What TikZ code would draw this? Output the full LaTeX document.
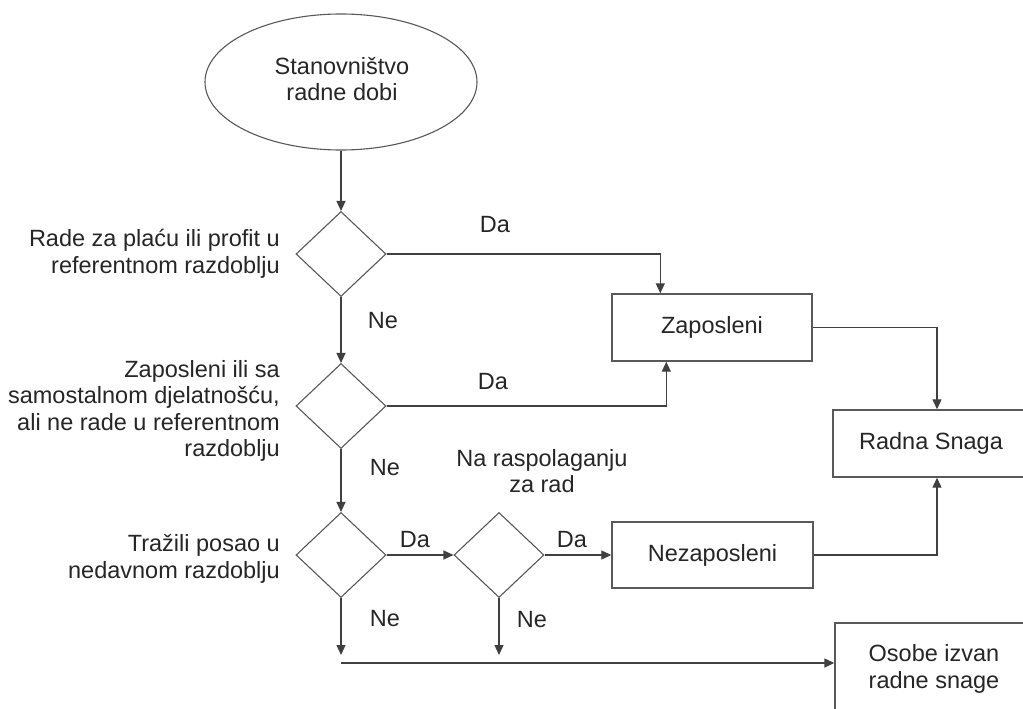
\documentclass[tikz,border=0pt]{standalone}
\usepackage{fontspec}
\setmainfont{Liberation Sans}
\usetikzlibrary{shapes.geometric,arrows.meta}
\begin{document}
\begin{tikzpicture}[x=1pt,y=-1pt,
  every node/.style={font=\fontsize{23.5}{26.5}\selectfont, text=black!85},
  box/.style={draw=black!65, line width=1.4pt, rectangle, minimum width=200pt, minimum height=67pt, inner sep=0pt},
  dec/.style={draw=black!65, line width=1.1pt, diamond, minimum width=90pt, minimum height=85pt, inner sep=0pt},
  term/.style={draw=black!65, line width=1.1pt, ellipse, minimum width=272pt, minimum height=136pt, inner sep=0pt},
  lbl/.style={inner sep=0pt},
  conn/.style={draw=black!75, line width=1.2pt, -{Triangle[length=10pt,width=9pt]}},
  plainconn/.style={draw=black!75, line width=1.2pt}
]
\clip (0,0) rectangle (1023,709);
\fill[white] (0,0) rectangle (1023,709);

% shapes
\node[term] (start) at (341,82) {};
\node[lbl, align=center] (starttxt) at (342,79) {Stanovništvo\\radne dobi};

\node[dec] (d1) at (341,254) {};
\node[dec] (d2) at (341,406) {};
\node[dec] (d3) at (341,555) {};
\node[dec] (d4) at (499,555) {};

\node[box] (zap) at (712,327.5) {Zaposleni};
\node[box, minimum width=201pt, minimum height=66pt] (nez) at (712.5,555) {Nezaposleni};
\node[box, minimum width=196pt] (rs) at (931,443.5) {Radna Snaga};
\node[box, minimum width=198pt, minimum height=92pt, align=center] (osobe) at (934,669) {Osobe izvan\\radne snage};

% question labels
\node[lbl, align=right, anchor=east] (q1) at (280,254) {Rade za plaću ili profit u\\referentnom razdoblju};
\node[lbl, align=right, anchor=east] (q2) at (280,411) {Zaposleni ili sa\\samostalnom djelatnošću,\\ali ne rade u referentnom\\razdoblju};
\node[lbl, align=right, anchor=east] (q3) at (280,559) {Tražili posao u\\nedavnom razdoblju};
\node[lbl, align=center] (q4) at (542,471) {Na raspolaganju\\za rad};

% connectors
\coordinate (bl) at (341,663);
\coordinate (d3end) at (341,655);
\coordinate (d4end) at (499,655);

\draw[conn] (start.south) -- (d1.north);
\draw[conn] (d1.south) -- (d2.north);
\draw[conn] (d2.south) -- (d3.north);
\draw[conn] (d1.east) -| ([xshift=49pt]zap.north west);
\draw[conn] (d2.east) -| ([xshift=55pt]zap.south west);
\draw[conn] (d3.east) -- (d4.west);
\draw[conn] (d4.east) -- (nez.west);
\draw[conn] (zap.east) -| ([xshift=6pt]rs.north);
\draw[conn] (nez.east) -| ([xshift=6pt]rs.south);
\draw[conn] (d3.south) -- (d3end);
\draw[conn] (d4.south) -- (d4end);
\draw[conn, line width=1.5pt] (bl) -- (osobe.west |- bl);

% branch labels
\node[lbl] (da1) at (495,225) {Da};
\node[lbl] (da2) at (493,382) {Da};
\node[lbl] (da3) at (415,540) {Da};
\node[lbl] (da4) at (572,540) {Da};
\node[lbl] (ne1) at (383,321) {Ne};
\node[lbl] (ne2) at (385,468) {Ne};
\node[lbl] (ne3) at (385,619) {Ne};
\node[lbl] (ne4) at (532,620) {Ne};
\end{tikzpicture}
\end{document}
